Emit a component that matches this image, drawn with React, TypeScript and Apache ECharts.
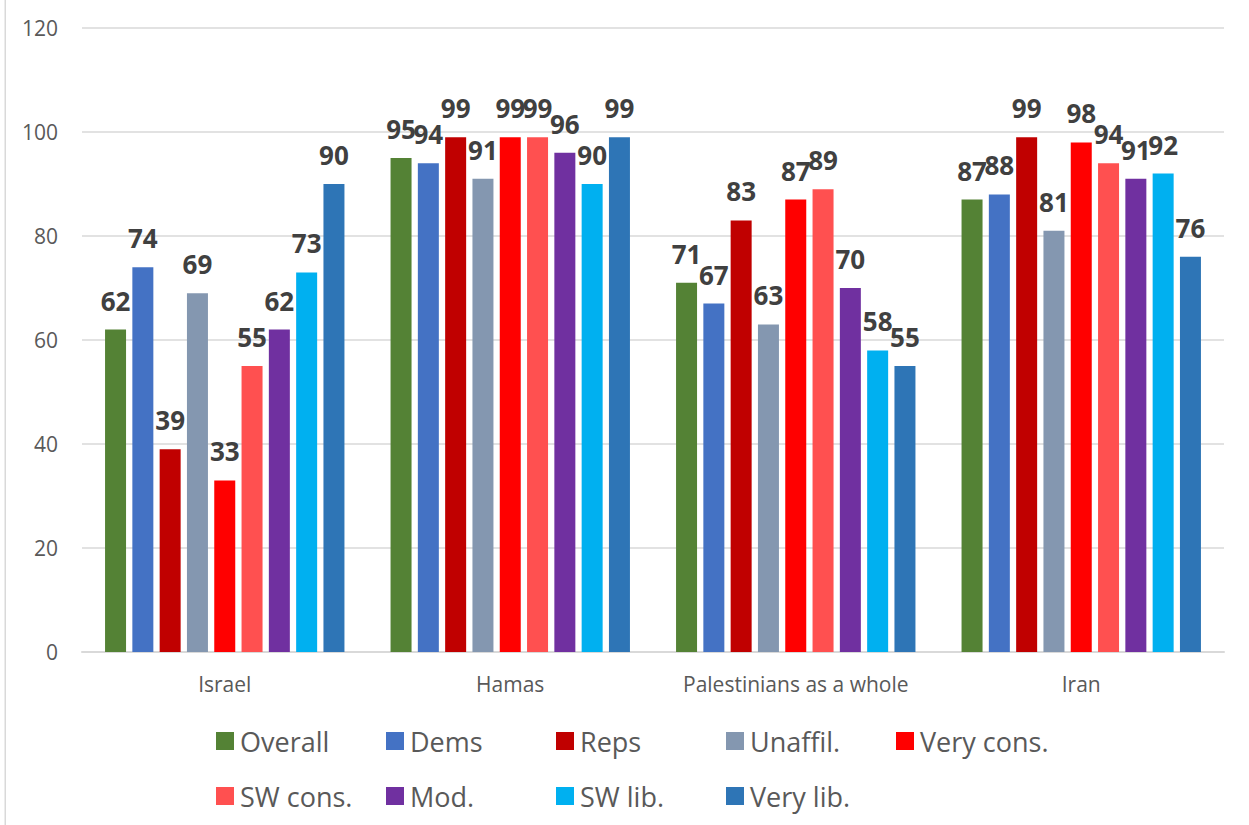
import React, { useEffect, useRef } from "react";
import * as echarts from "echarts";

const categories = ["Israel", "Hamas", "Palestinians as a whole", "Iran"];
const seriesNames = ["Overall", "Dems", "Reps", "Unaffil.", "Very cons.", "SW cons.", "Mod.", "SW lib.", "Very lib."];
const overall = [62, 95, 71, 87];
const dems = [74, 94, 67, 88];
const reps = [39, 99, 83, 99];
const unaffil = [69, 91, 63, 81];
const veryCons = [33, 99, 87, 98];
const swCons = [55, 99, 89, 94];
const mod = [62, 96, 70, 91];
const swLib = [73, 90, 58, 92];
const veryLib = [90, 99, 55, 76];
const seriesValues = [overall, dems, reps, unaffil, veryCons, swCons, mod, swLib, veryLib];
const colors = ["#548235", "#4472C4", "#C00000", "#8497B0", "#FF0000", "#FF5050", "#7030A0", "#00B0F0", "#2E75B6"];
const yTicks = { min: 0, max: 120, interval: 20 };

const FONT = "'Open Sans', sans-serif";

export default function App() {
  const ref = useRef<HTMLDivElement>(null);
  useEffect(() => {
    if (!ref.current) return;
    const chart = echarts.init(ref.current, undefined, { renderer: "svg" });
    const legendText = {
      color: "#595959",
      fontSize: 27,
      fontFamily: FONT,
      width: 146,
      lineHeight: 30,
      padding: [0, 0, 0, 1],
    };
    chart.setOption({
      animation: false,
      backgroundColor: "#ffffff",
      textStyle: { fontFamily: FONT },
      graphic: [
        {
          type: "rect",
          shape: { x: 4.5, y: 0, width: 1.5, height: 825 },
          style: { fill: "#d9d9d9" },
          silent: true,
        },
      ],
      grid: { left: 82, right: 25, top: 28, bottom: 173, containLabel: false },
      legend: [
        {
          data: seriesNames.slice(0, 5),
          left: 216,
          top: 726,
          padding: 0,
          orient: "horizontal",
          itemWidth: 18,
          itemHeight: 18,
          itemGap: 0,
          icon: "rect",
          textStyle: legendText,
        },
        {
          data: seriesNames.slice(5),
          left: 216,
          top: 781,
          padding: 0,
          orient: "horizontal",
          itemWidth: 18,
          itemHeight: 18,
          itemGap: 0,
          icon: "rect",
          textStyle: legendText,
        },
      ],
      xAxis: {
        type: "category",
        data: categories,
        axisLine: { show: true, lineStyle: { color: "#d9d9d9", width: 2 } },
        axisTick: { show: false },
        axisLabel: { color: "#595959", fontSize: 21, fontFamily: FONT, margin: 21, interval: 0 },
      },
      yAxis: {
        type: "value",
        min: yTicks.min,
        max: yTicks.max,
        interval: yTicks.interval,
        axisLine: { show: false },
        axisTick: { show: false },
        axisLabel: { color: "#595959", fontSize: 21, fontFamily: FONT, margin: 24 },
        splitLine: { lineStyle: { color: "#d9d9d9", width: 1.5 } },
      },
      series: seriesNames.map((name, i) => ({
        name,
        type: "bar",
        data: seriesValues[i],
        barWidth: 21,
        barGap: "30%",
        itemStyle: { color: colors[i] },
        label: {
          show: true,
          position: "top",
          distance: 16,
          color: "#404040",
          fontSize: 26,
          fontWeight: "bold",
          fontFamily: FONT,
        },
      })),
    });
    return () => chart.dispose();
  }, []);
  return (
    <div
      ref={ref}
      style={{ position: "absolute", left: 0, top: 0, width: 1249, height: 825, background: "#fff" }}
    />
  );
}
